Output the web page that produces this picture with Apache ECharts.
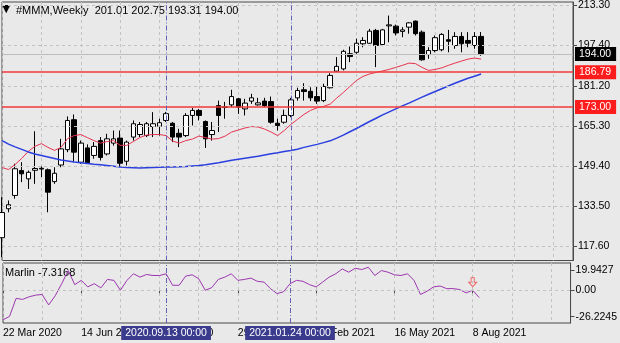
<!DOCTYPE html>
<html>
<head>
<meta charset="utf-8">
<script src="https://cdn.jsdelivr.net/npm/echarts@6.0.0/dist/echarts.min.js"></script>
<style>
  html, body { margin: 0; padding: 0; background: #e9e9e9; }
  #chart { width: 620px; height: 343px; }
</style>
</head>
<body>
<div id="chart"></div>
<script>
// Weekly bars of #MMM, first bar is the week of 22 Mar 2020
const firstWeek = [2020, 2, 22];
const slotCount = 88; // bars plus empty space on the right

const opens  = [121.0,132.5,137.8,147.7,144.4,147.8,148.6,148.0,143.3,149.9,156.0,167.9,151.0,156.7,153.7,159.6,154.3,158.6,160.6,151.4,
                161.0,162.0,161.6,165.2,165.3,167.6,166.5,162.5,161.6,169.6,171.6,167.2,162.0,173.5,172.8,173.8,176.2,172.2,175.3,173.8,
                175.3,175.1,166.5,166.9,169.6,176.6,179.8,179.2,177.1,175.5,180.6,187.2,188.1,194.1,194.7,198.1,198.3,203.4,197.8,205.2,
                205.1,203.0,204.7,207.1,202.7,193.8,195.4,195.7,199.7,197.4,201.0,199.4,197.4,201.01];
const highs  = [137.1,135.8,150.4,151.0,147.7,163.3,149.3,148.5,149.0,160.3,169.2,170.0,159.6,158.1,159.0,161.0,162.3,163.6,163.6,159.6,
                167.6,167.0,167.0,170.9,168.3,171.0,167.0,164.3,170.5,172.6,172.2,167.6,167.0,175.5,175.0,179.8,176.6,176.2,178.2,176.6,
                176.6,177.1,168.3,171.9,176.6,180.6,182.4,180.8,181.1,182.2,186.4,192.8,195.7,197.0,200.1,200.7,204.0,204.0,204.0,209.3,
                205.7,204.7,206.7,207.3,203.4,196.7,201.4,202.3,203.6,202.7,202.7,202.7,202.7,202.75];
const lows   = [113.3,131.1,136.5,143.1,140.4,142.4,145.1,131.1,142.4,149.0,155.0,151.0,150.4,150.4,152.4,151.7,153.7,157.6,149.0,149.7,
                159.6,161.0,161.0,161.0,161.6,167.0,159.0,157.0,161.0,165.6,167.6,156.7,159.6,163.0,168.3,172.9,170.2,169.6,174.2,173.5,
                172.9,166.3,163.6,166.3,168.9,175.5,175.5,175.3,174.2,174.9,180.3,186.8,187.5,190.8,194.1,196.7,198.1,188.8,197.4,198.7,
                201.4,200.7,202.1,201.4,191.4,192.1,194.7,195.1,194.7,196.1,194.7,196.7,196.1,193.31];
const closes = [131.0,134.1,148.4,146.4,147.0,148.5,148.3,139.1,146.6,156.3,167.6,155.0,158.6,150.8,157.3,152.9,160.3,160.3,150.6,159.0,
                166.3,166.0,166.3,166.3,166.7,170.3,161.0,161.0,169.6,171.6,169.6,160.3,163.6,169.6,173.0,177.1,172.9,174.5,176.6,174.6,
                173.5,166.9,165.6,169.6,175.8,179.5,179.1,176.6,175.3,181.1,185.5,189.1,195.1,193.0,198.3,199.4,203.1,197.4,203.6,205.6,
                202.4,203.6,206.4,202.1,191.7,195.4,200.5,201.8,199.1,201.0,198.1,198.3,201.0,194.00];

// Moving averages drawn over the candles
const maFast = [148.9,148.1,150.1,152.5,155.3,157.3,158.4,156.9,155.7,156.9,160.4,161.6,162.0,160.8,159.6,158.6,159.2,159.6,157.7,157.7,
                159.2,160.8,161.8,162.0,162.0,161.6,159.4,158.6,159.6,160.2,161.4,160.8,160.2,160.4,161.4,163.0,163.8,164.6,165.2,165.0,
                164.2,163.0,161.6,163.6,166.0,168.0,170.0,171.6,172.6,173.2,174.1,176.5,178.7,181.1,183.5,185.1,186.1,186.7,187.3,187.9,
                188.7,189.5,190.4,190.2,188.7,187.5,187.9,188.5,189.5,190.4,191.2,192.0,192.4,192.0];
const maSlow = [159.6,158.2,157.1,156.1,155.1,154.3,153.7,153.1,152.5,151.9,151.5,151.1,150.8,150.5,150.2,150.0,149.7,149.4,149.1,148.9,
                148.8,148.7,148.8,148.9,149.0,149.1,149.1,149.2,149.3,149.5,149.7,150.0,150.4,150.8,151.3,151.8,152.2,152.6,153.0,153.4,
                153.9,154.4,154.8,155.3,155.7,156.2,156.9,157.5,158.1,158.8,159.5,160.6,161.8,163.1,164.4,165.8,167.2,168.5,169.8,171.0,
                172.2,173.4,174.5,175.7,176.9,178.0,179.1,180.2,181.3,182.4,183.4,184.4,185.2,186.1];

// Marlin oscillator (lower panel)
const marlin = [-29.3,-26.0,-8.1,-9.1,-6.5,-4.9,-4.2,-14.6,-5.5,6.5,19.5,5.5,9.8,3.3,6.5,2.3,10.7,9.8,0.0,9.8,
                16.3,13.0,15.6,14.6,14.6,16.3,4.9,4.9,14.0,15.3,11.4,0.0,2.6,10.7,13.0,16.3,9.8,10.7,12.0,8.8,
                8.1,1.6,-3.3,-1.6,6.5,9.8,8.8,5.5,3.3,8.1,13.0,16.3,21.1,17.9,21.8,20.5,22.8,14.6,19.5,17.9,
                15.3,14.6,16.3,9.8,-4.2,-1.0,3.3,4.2,1.6,1.6,0.7,-2.6,0.0,-7.3168];
const marlinLast = '-7.3168';
const signalBar = 72;

const priceTicks = [117.6, 133.5, 149.4, 165.3, 181.2, 197.4, 213.3];
const marlinTicks = [-26.2245, 0, 19.9427];
const marlinTickText = ['-26.2245', '0.00', '19.9427'];
const supportLevels = [186.79, 173.00];
const lastPrice = 194.00;
const markedWeeks = ['2020.09.13', '2021.01.24'];
const symbolName = '#MMM,Weekly';

const MONTHS = ['Jan','Feb','Mar','Apr','May','Jun','Jul','Aug','Sep','Oct','Nov','Dec'];
const pad = n => (n < 10 ? '0' : '') + n;
const weekKeys = [];
for (let i = 0; i < slotCount; i++) {
  const d = new Date(Date.UTC(firstWeek[0], firstWeek[1], firstWeek[2] + 7 * i));
  weekKeys.push(d.getUTCFullYear() + '.' + pad(d.getUTCMonth() + 1) + '.' + pad(d.getUTCDate()));
}
const weekLabel = key => {
  const [y, m, d] = key.split('.').map(Number);
  return d + ' ' + MONTHS[m - 1] + ' ' + y;
};
const barCount = closes.length;
const candles = opens.map((o, i) => [o, closes[i], lows[i], highs[i]]);

const FONT = 'Liberation Sans';
const GRID_LINE = { color: '#c3c3c3', type: [3, 3], width: 1 };
const MARK_BLUE = '#6262b4';
const LEVEL_RED = '#f23a3a';

const chart = echarts.init(document.getElementById('chart'), null, { renderer: 'canvas' });

const verticalMarkers = (withLabel) => ({
  silent: true,
  symbol: ['none', 'none'],
  animation: false,
  lineStyle: { color: MARK_BLUE, type: [5, 2, 1, 2], width: 1 },
  label: withLabel ? {
    show: true, position: 'start', distance: 3,
    color: '#ffffff', backgroundColor: '#3b3b8e',
    padding: [2, 4, 1, 4], fontSize: 10.5, fontFamily: FONT,
    formatter: p => p.data.tag
  } : { show: false },
  data: markedWeeks.map(k => ({ xAxis: k, tag: k + ' 00:00' }))
});

const option = {
  animation: false,
  backgroundColor: '#e9e9e9',
  textStyle: { fontFamily: FONT },
  graphic: [
    { type: 'text', left: 2, top: 4, style: { text: '\u25BC', font: '11px "DejaVu Sans"', fill: '#000' } },
    { type: 'text', left: 16, top: 5, style: { text: symbolName + '  ' + [opens[barCount-1], highs[barCount-1], lows[barCount-1], closes[barCount-1]].map(v => v.toFixed(2)).join(' '), font: '11px "' + FONT + '"', fill: '#000' } },
    { type: 'text', left: 5, top: 267, style: { text: 'Marlin ' + marlinLast, font: '11px "' + FONT + '"', fill: '#000' } }
  ],
  grid: [
    { left: 2, top: 1.5, width: 571, height: 259, show: true, borderColor: '#4a4a4a', borderWidth: 1, backgroundColor: 'transparent' },
    { left: 2, top: 263, width: 571, height: 60, show: true, borderColor: '#4a4a4a', borderWidth: 1, backgroundColor: 'transparent' }
  ],
  xAxis: [
    {
      type: 'category', gridIndex: 0, data: weekKeys, boundaryGap: false,
      axisLine: { show: false }, axisTick: { show: false }, axisLabel: { show: false },
      splitLine: { show: true, interval: i => i % 6 === 0, lineStyle: GRID_LINE }
    },
    {
      type: 'category', gridIndex: 1, data: weekKeys, boundaryGap: false,
      axisLine: { show: false },
      axisTick: { show: true, interval: i => i % 12 === 0 && i < barCount, length: 3, lineStyle: { color: '#4a4a4a' } },
      axisLabel: {
        show: true, interval: i => i % 12 === 0 && i < barCount, align: 'left', margin: 5,
        color: '#000', fontSize: 10.5, fontFamily: FONT, formatter: weekLabel
      },
      splitLine: { show: true, interval: i => i % 6 === 0, lineStyle: GRID_LINE }
    }
  ],
  yAxis: [
    {
      type: 'value', gridIndex: 0, position: 'right', min: 111.94, max: 214.69, scale: true,
      axisLine: { show: true, lineStyle: { color: '#4a4a4a' } },
      axisTick: { show: true, customValues: priceTicks, length: 4, lineStyle: { color: '#4a4a4a' } },
      axisLabel: { show: true, customValues: priceTicks, margin: 5, color: '#000', fontSize: 10.5, fontFamily: FONT, formatter: v => v.toFixed(2) },
      splitLine: { show: false }
    },
    {
      type: 'value', gridIndex: 1, position: 'right', min: -32.5, max: 27,
      axisLine: { show: true, lineStyle: { color: '#4a4a4a' } },
      axisTick: { show: true, customValues: marlinTicks, length: 4, lineStyle: { color: '#4a4a4a' } },
      axisLabel: {
        show: true, customValues: marlinTicks, margin: 5, color: '#000', fontSize: 10.5, fontFamily: FONT,
        formatter: v => marlinTickText[marlinTicks.findIndex(t => Math.abs(t - v) < 1e-6)] || ''
      },
      splitLine: { show: false }
    }
  ],
  series: [
    // horizontal grid at the price ticks
    {
      type: 'line', xAxisIndex: 0, yAxisIndex: 0, data: [], z: 1, silent: true,
      markLine: {
        silent: true, symbol: ['none', 'none'], animation: false,
        label: { show: false }, lineStyle: GRID_LINE,
        data: priceTicks.map(v => ({ yAxis: v }))
      }
    },
    // levels and last price on the price panel
    {
      type: 'line', xAxisIndex: 0, yAxisIndex: 0, data: [], z: 2, silent: true,
      markLine: {
        silent: true, symbol: ['none', 'none'], animation: false,
        data: [
          {
            yAxis: lastPrice,
            lineStyle: { color: '#bdbdbd', type: 'solid', width: 1 },
            label: { show: true, position: 'end', distance: 2, formatter: lastPrice.toFixed(2), color: '#fff', backgroundColor: '#000', padding: [2, 5, 1, 4], fontSize: 10.5, fontFamily: FONT }
          }
        ].concat(supportLevels.map(v => ({
          yAxis: v,
          lineStyle: { color: LEVEL_RED, type: 'solid', width: 1.5 },
          label: { show: true, position: 'end', distance: 2, formatter: v.toFixed(2), color: '#fff', backgroundColor: '#ff1c1c', padding: [2, 5, 1, 4], fontSize: 10.5, fontFamily: FONT }
        })))
      }
    },
    // vertical time markers on the price panel
    {
      type: 'line', xAxisIndex: 0, yAxisIndex: 0, data: [], z: 2, silent: true,
      markLine: verticalMarkers(false)
    },
    {
      type: 'candlestick', xAxisIndex: 0, yAxisIndex: 0, data: candles, z: 3,
      barWidth: 5, clip: false,
      itemStyle: { color: '#ffffff', color0: '#000000', borderColor: '#000000', borderColor0: '#000000', borderWidth: 1 }
    },
    {
      type: 'line', xAxisIndex: 0, yAxisIndex: 0, data: maFast, z: 4,
      showSymbol: false, lineStyle: { color: '#e8334f', width: 1 }
    },
    {
      type: 'line', xAxisIndex: 0, yAxisIndex: 0, data: maSlow, z: 4,
      showSymbol: false, lineStyle: { color: '#2a3fe0', width: 1.5 }
    },
    // Marlin panel
    {
      type: 'line', xAxisIndex: 1, yAxisIndex: 1, data: [], z: 1, silent: true,
      markLine: {
        silent: true, symbol: ['none', 'none'], animation: false,
        label: { show: false }, lineStyle: GRID_LINE,
        data: [{ yAxis: 0 }]
      }
    },
    {
      type: 'line', xAxisIndex: 1, yAxisIndex: 1, data: [], z: 5, silent: true,
      markLine: verticalMarkers(true)
    },
    {
      type: 'line', xAxisIndex: 1, yAxisIndex: 1, data: marlin, z: 3,
      showSymbol: false, lineStyle: { color: '#9c36b0', width: 1 }
    },
    {
      type: 'scatter', xAxisIndex: 1, yAxisIndex: 1, z: 4,
      data: [[weekKeys[signalBar], marlin[signalBar]]],
      symbol: 'path://M3,0 L7,0 L7,5 L10,5 L5,10 L0,5 L3,5 Z',
      symbolSize: [8, 9], symbolOffset: [0, -8],
      itemStyle: { color: 'rgba(255,255,255,0)', borderColor: '#f04848', borderWidth: 1 }
    }
  ]
};
chart.setOption(option);
</script>
</body>
</html>
